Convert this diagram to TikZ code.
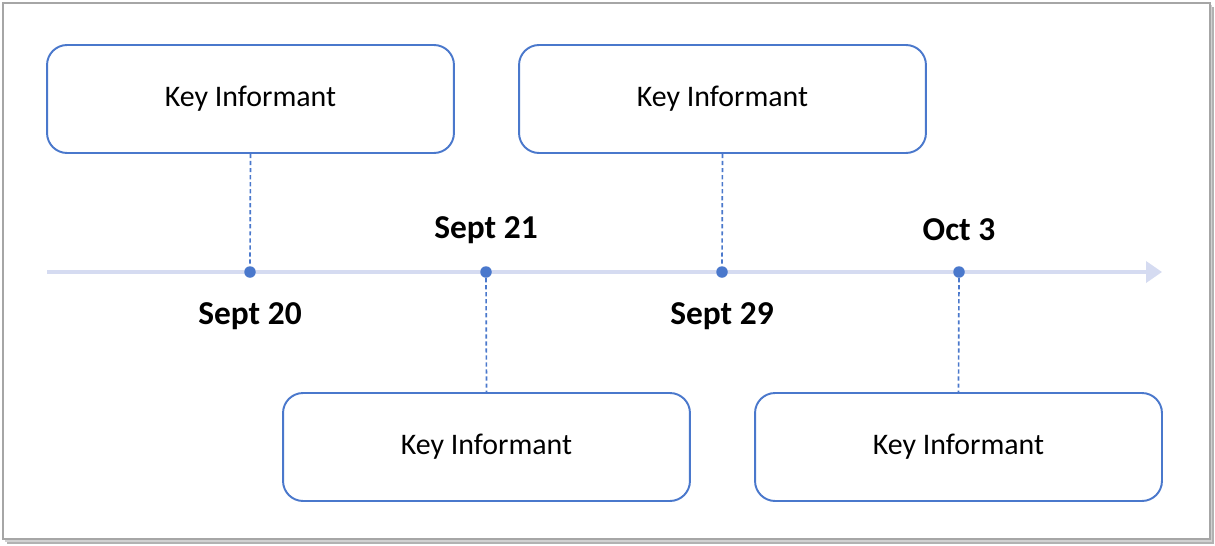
\documentclass[tikz,border=0pt]{standalone}
\usepackage{fontspec}
\setmainfont{Carlito}
\usetikzlibrary{arrows.meta}

\definecolor{kiblue}{HTML}{4A78CC}
\definecolor{axisblue}{HTML}{D5DBF1}
\definecolor{framegray}{HTML}{A6A6A6}

\tikzset{
  infobox/.style={draw=kiblue, line width=1.1pt, rounded corners=0.4cm,
    minimum width=8.14cm, minimum height=2.16cm, inner sep=0pt,
    font=\fontsize{17}{20}\selectfont},
  datelabel/.style={font=\fontsize{19}{22}\selectfont\bfseries},
  dot/.style={circle, fill=kiblue, minimum size=0.23cm, inner sep=0pt},
  link/.style={kiblue, line width=0.95pt, dash pattern=on 2.4pt off 1.6pt},
  timeline/.style={axisblue, line width=2.1pt,
    -{Triangle[length=0.32cm, width=0.42cm]}},
}

\begin{document}
\begin{tikzpicture}[x=0.02cm,y=-0.02cm] % 1 unit = 1 px

% --------- PARAMETRES ----------
\def\yline{272}   % hauteur de l'axe
\def\ytop{99}     % centre des boites du haut
\def\ybot{447}    % centre des boites du bas
% --------------------------------

\useasboundingbox (0,0) rectangle (1215,545);

% Cadre + ombre
\fill[black!30] (7,7) rectangle (1214,544);
\fill[black!18] (5,5) rectangle (1212,542);
\draw[framegray, fill=white, line width=0.6pt] (3,3) rectangle (1210,539);

% Axe du temps
\coordinate (start) at (47,\yline);
\coordinate (end) at (1162,\yline);
\draw[timeline] (start) -- (end);

% Points de l'axe
\foreach \name/\x in {d1/250, d2/486, d3/722, d4/959}{
  \node[dot] (\name) at (\x,\yline) {};
}

% Dates
\node[datelabel] (l1) at (250,316) {Sept 20};
\node[datelabel] (l2) at (486,230) {Sept 21};
\node[datelabel] (l3) at (722,316) {Sept 29};
\node[datelabel] (l4) at (959,230) {Oct 3};

% Boites
\node[infobox] (k1) at (250.5,\ytop) {Key Informant};
\node[infobox] (k2) at (486.5,\ybot) {Key Informant};
\node[infobox] (k3) at (722.5,\ytop) {Key Informant};
\node[infobox] (k4) at (958.5,\ybot) {Key Informant};

% Liens pointilles
\draw[link] (k1.south) -- (d1);
\draw[link] (d2) -- (k2.north);
\draw[link] (k3.south) -- (d3);
\draw[link] (d4) -- (k4.north);

\end{tikzpicture}
\end{document}
